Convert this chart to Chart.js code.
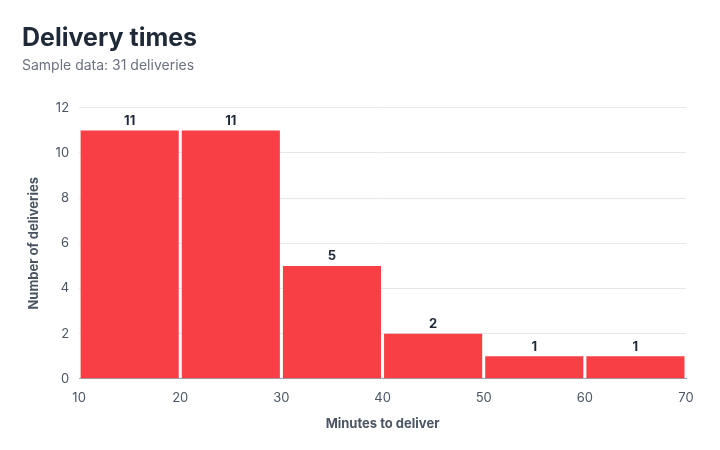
<!DOCTYPE html>
<html>
<head>
<meta charset="utf-8">
<script src="https://cdn.jsdelivr.net/npm/chart.js@4"></script>
<style>
  body { margin: 0; background: #fff; }
  #wrap { width: 720px; height: 450px; }
</style>
</head>
<body>
<div id="wrap"><canvas id="chart"></canvas></div>
<script>
// bins: 10-20, 20-30, ... 60-70 (centres)
const binCentres = [15, 25, 35, 45, 55, 65];
const counts = [11, 11, 5, 2, 1, 1];
const xTicks = [10, 20, 30, 40, 50, 60, 70];
const yTicks = [0, 2, 4, 6, 8, 10, 12];

Chart.defaults.font.family = "Inter, 'Noto Sans', sans-serif";
Chart.defaults.color = "#4b5563";

// value labels above bars
const barLabels = {
  id: "barLabels",
  afterDatasetsDraw(chart) {
    const ctx = chart.ctx;
    const meta = chart.getDatasetMeta(0);
    ctx.save();
    ctx.font = "bold 13px Inter, sans-serif";
    ctx.fillStyle = "#1f2937";
    ctx.textAlign = "center";
    ctx.textBaseline = "bottom";
    meta.data.forEach((bar, i) => {
      ctx.fillText(counts[i], bar.x, bar.y - 3);
    });
    ctx.restore();
  }
};

new Chart(document.getElementById("chart"), {
  type: "bar",
  data: {
    datasets: [{
      data: binCentres.map((x, i) => ({ x: x, y: counts[i] })),
      backgroundColor: "#f83f46",
      barPercentage: 0.97,
      categoryPercentage: 1
    }]
  },
  options: {
    responsive: true,
    maintainAspectRatio: false,
    animation: false,
    layout: { padding: { left: 22, right: 34, top: 17, bottom: 14 } },
    plugins: {
      legend: { display: false },
      tooltip: { enabled: false },
      title: {
        display: true,
        text: "Delivery times",
        align: "start",
        color: "#1f2937",
        font: { size: 25, weight: "bold" },
        padding: { top: 6, bottom: 4 }
      },
      subtitle: {
        display: true,
        text: "Sample data: 31 deliveries",
        align: "start",
        color: "#6b7280",
        font: { size: 14 },
        padding: { bottom: 34 }
      }
    },
    scales: {
      x: {
        type: "linear",
        offset: false,
        min: 10,
        max: 70,
        afterBuildTicks: axis => { axis.ticks = xTicks.map(v => ({ value: v })); },
        grid: { display: false },
        border: { color: "#9ca3af" },
        ticks: { font: { size: 13 }, color: "#4b5563" },
        title: {
          display: true,
          text: "Minutes to deliver",
          color: "#4b5563",
          font: { size: 13, weight: "bold" },
          padding: { top: 8 }
        }
      },
      y: {
        min: 0,
        max: 12,
        afterBuildTicks: axis => { axis.ticks = yTicks.map(v => ({ value: v })); },
        grid: { color: "#e5e7eb", drawTicks: false },
        border: { display: false },
        ticks: { font: { size: 13 }, color: "#4b5563", padding: 10 },
        title: {
          display: true,
          text: "Number of deliveries",
          color: "#4b5563",
          font: { size: 13, weight: "bold" }
        }
      }
    }
  },
  plugins: [barLabels]
});
</script>
</body>
</html>
